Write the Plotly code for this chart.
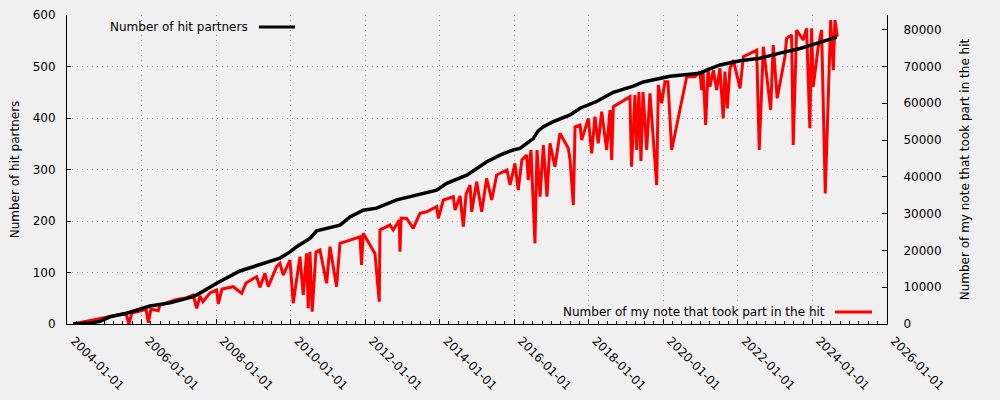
import plotly.graph_objects as go

# Number of hit partners (left axis)
partner_dates = [
    "2004-03-01", "2004-08-13", "2004-11-18", "2005-02-25", "2005-08-08", "2005-12-17",
    "2006-03-25", "2006-10-06", "2007-03-02", "2007-05-22", "2007-07-27", "2008-01-07",
    "2008-08-22", "2009-06-13", "2009-09-18", "2009-12-25", "2010-03-01", "2010-07-09",
    "2010-09-13", "2011-04-29", "2011-08-05", "2011-12-13", "2012-04-22", "2012-11-05",
    "2013-06-21", "2013-12-02", "2014-03-10", "2014-09-23", "2015-04-07", "2015-08-14",
    "2015-12-22", "2016-02-26", "2016-07-05", "2016-08-23", "2016-10-12", "2017-01-18",
    "2017-07-01", "2017-10-07", "2018-03-18", "2018-08-28", "2019-03-13", "2019-06-19",
    "2020-03-06", "2020-12-25", "2021-03-01", "2021-07-09", "2022-01-22", "2022-08-05",
    "2023-02-17", "2023-09-01", "2024-02-11", "2024-08-26",
]
partner_counts = [
    0, 2, 5, 14, 21, 30,
    35, 41, 48, 53, 60, 79,
    103, 121, 128, 140, 150, 166,
    181, 192, 208, 221, 225, 241,
    252, 260, 273, 289, 315, 328,
    338, 341, 360, 375, 383, 393,
    406, 419, 432, 450, 462, 470,
    481, 487, 493, 503, 511, 516,
    526, 535, 545, 557,
]

# Number of my notes that took part in the hit (right axis)
note_dates = [
    "2004-03-01", "2004-11-18", "2005-08-01", "2005-08-30", "2005-09-28", "2005-12-17",
    "2006-02-13", "2006-03-08", "2006-04-03", "2006-06-13", "2006-06-30", "2006-12-11",
    "2007-03-12", "2007-05-22", "2007-06-25", "2007-07-27", "2007-08-25", "2007-11-02",
    "2008-01-07", "2008-01-23", "2008-02-28", "2008-06-18", "2008-09-08", "2008-10-20",
    "2009-02-02", "2009-03-06", "2009-04-24", "2009-05-26", "2009-08-16", "2009-09-18",
    "2009-10-20", "2009-12-25", "2010-01-26", "2010-04-02", "2010-05-04", "2010-06-06",
    "2010-06-22", "2010-07-09", "2010-07-31", "2010-09-06", "2010-10-15", "2010-12-19",
    "2011-01-21", "2011-03-27", "2011-04-29", "2011-08-05", "2011-11-11", "2011-11-27",
    "2011-12-13", "2012-04-06", "2012-05-18", "2012-05-25", "2012-08-31", "2012-10-03",
    "2012-11-30", "2012-12-07", "2012-12-18", "2013-02-11", "2013-04-16", "2013-06-21",
    "2013-08-26", "2013-12-02", "2013-12-18", "2014-02-05", "2014-05-14", "2014-05-31",
    "2014-07-19", "2014-08-20", "2014-09-16", "2014-10-25", "2014-11-10", "2014-12-29",
    "2015-02-16", "2015-04-06", "2015-05-25", "2015-07-13", "2015-09-03", "2015-10-22",
    "2015-11-21", "2016-01-08", "2016-02-09", "2016-03-16", "2016-05-02", "2016-05-17",
    "2016-06-13", "2016-07-22", "2016-08-11", "2016-09-10", "2016-10-12", "2016-11-17",
    "2016-12-16", "2017-02-03", "2017-03-24", "2017-06-14", "2017-07-01", "2017-08-02",
    "2017-08-19", "2017-10-07", "2017-10-23", "2017-12-27", "2018-01-29", "2018-03-02",
    "2018-04-03", "2018-05-07", "2018-06-25", "2018-07-27", "2018-08-13", "2018-08-29",
    "2019-02-08", "2019-02-23", "2019-03-29", "2019-04-15", "2019-05-07", "2019-05-27",
    "2019-06-16", "2019-07-22", "2019-08-23", "2019-10-28", "2019-11-13", "2019-12-16",
    "2020-01-17", "2020-02-15", "2020-03-23", "2020-08-17", "2020-11-06", "2020-12-25",
    "2021-01-11", "2021-01-24", "2021-02-19", "2021-03-14", "2021-04-02", "2021-05-05",
    "2021-06-07", "2021-07-09", "2021-08-10", "2021-08-27", "2021-09-19", "2021-10-15",
    "2021-11-17", "2022-01-22", "2022-02-23", "2022-07-04", "2022-07-29", "2022-09-07",
    "2022-11-18", "2022-12-13", "2023-01-21", "2023-04-07", "2023-04-23", "2023-06-11",
    "2023-06-27", "2023-07-30", "2023-10-03", "2023-11-05", "2023-12-07", "2023-12-24",
    "2024-01-09", "2024-02-27", "2024-03-31", "2024-05-06", "2024-06-28", "2024-07-24",
    "2024-08-09", "2024-09-01",
]
note_counts = [
    0, 1550, 2900, 0, 3000, 3530,
    4080, 350, 4080, 3600, 5160, 6700,
    7070, 7880, 4270, 7600, 6060, 8430,
    9240, 5440, 9510, 10140, 8340, 11140,
    12860, 9970, 13780, 10140, 15570, 16500,
    13300, 17400, 5630, 18300, 7900, 19200,
    4270, 19650, 3340, 19570, 20100, 11060,
    21000, 10140, 21900, 22800, 23700, 16040,
    24650, 19200, 6060, 25550, 26900, 25550,
    28250, 19650, 28800, 28700, 26000, 30100,
    30500, 31900, 28700, 33700, 34600, 31000,
    34800, 26450, 35300, 37780, 30500, 38680,
    30500, 39600, 33700, 40500, 41300, 41860,
    37780, 43680, 36420, 44600, 45930, 39140,
    47300, 21930, 47300, 34600, 48650, 34600,
    49100, 42750, 51830, 47750, 44600, 32340,
    53630, 54090, 50000, 55900, 46400, 56350,
    49100, 57700, 47300, 58160, 44600, 59070,
    61800, 42750, 62250, 47300, 63060, 44300,
    63060, 47300, 62700, 37780, 64960, 60000,
    65860, 65860, 47300, 67230, 67230, 68600,
    63600, 69000, 54100, 69000, 64500, 69000,
    63600, 69500, 55900, 68600, 58600, 69500,
    71750, 64050, 72650, 74470, 47300, 75370,
    58160, 75830, 61350, 72650, 77650, 78550,
    48650, 79900, 77200, 80370, 53200, 80370,
    64500, 75370, 79900, 35500, 82600, 69000,
    82600, 78100,
]

left_ticks = [0, 100, 200, 300, 400, 500, 600]
right_ticks = [0, 10000, 20000, 30000, 40000, 50000, 60000, 70000, 80000]

FONT = "DejaVu Sans"
BG = "#f0f0f0"
GRID = "#a0a0a0"
DOTS = "1px,4px"

fig = go.Figure()
# red series on base y axis (drawn underneath), shown on right side
fig.add_trace(go.Scatter(
    x=note_dates, y=note_counts, mode="lines", yaxis="y",
    line=dict(color="#ff0000", width=3), showlegend=False,
    name="Number of my note that took part in the hit",
))
# black series on overlaying axis (drawn on top), shown on left side
fig.add_trace(go.Scatter(
    x=partner_dates, y=partner_counts, mode="lines", yaxis="y2",
    line=dict(color="#000000", width=3.5), showlegend=False,
    name="Number of hit partners",
))

fig.update_layout(
    width=1000, height=400,
    margin=dict(l=67, r=113, t=15, b=76, autoexpand=False),
    paper_bgcolor=BG, plot_bgcolor=BG,
    font=dict(family=FONT, size=12, color="#000000"),
    xaxis=dict(
        type="date", range=["2004-01-01", "2026-01-01"],
        dtick="M24", tick0="2004-01-01", tickformat="%Y-%m-%d",
        tickangle=45, ticks="inside", ticklen=5, tickcolor="#000",
        showline=True, linecolor="#000", linewidth=1,
        showgrid=True, gridcolor=GRID, griddash=DOTS, gridwidth=1,
        minor=dict(dtick="M3", ticks="inside", ticklen=3, tickcolor="#000", showgrid=False),
        zeroline=False, tickfont=dict(size=12), automargin=False,
        ticklabelstandoff=4, ticklabelshift=7,
    ),
    yaxis=dict(
        side="right", range=[0, 84000], tickvals=right_ticks, tickformat="d",
        ticks="inside", ticklen=5, tickcolor="#000",
        showline=True, linecolor="#000", linewidth=1,
        showgrid=False, zeroline=False, ticklabelstandoff=13,
        title=dict(text="Number of my note that took part in the hit", standoff=20,
                   font=dict(size=12)),
        tickfont=dict(size=12), automargin=False,
    ),
    yaxis2=dict(
        side="left", overlaying="y", range=[0, 600], tickvals=left_ticks,
        ticks="inside", ticklen=4, tickcolor="#000",
        showline=True, linecolor="#000", linewidth=1,
        showgrid=True, gridcolor=GRID, griddash=DOTS, gridwidth=1,
        zeroline=False, ticklabelstandoff=8,
        title=dict(text="Number of hit partners", standoff=10, font=dict(size=12)),
        tickfont=dict(size=12), automargin=False,
    ),
    annotations=[
        dict(text="Number of hit partners", xref="paper", yref="paper",
             x=0.223, y=0.961, xanchor="right", yanchor="middle", showarrow=False,
             font=dict(size=12)),
        dict(text="Number of my note that took part in the hit", xref="paper", yref="paper",
             x=0.927, y=0.039, xanchor="right", yanchor="middle", showarrow=False,
             font=dict(size=12)),
    ],
    shapes=[
        dict(type="line", xref="paper", yref="paper", x0=0.234, x1=0.278, y0=0.961, y1=0.961,
             line=dict(color="#000000", width=3)),
        dict(type="line", xref="paper", yref="paper", x0=0.9366, x1=0.9817, y0=0.039, y1=0.039,
             line=dict(color="#ff0000", width=3)),
    ],
)

fig.write_html("out.html")
